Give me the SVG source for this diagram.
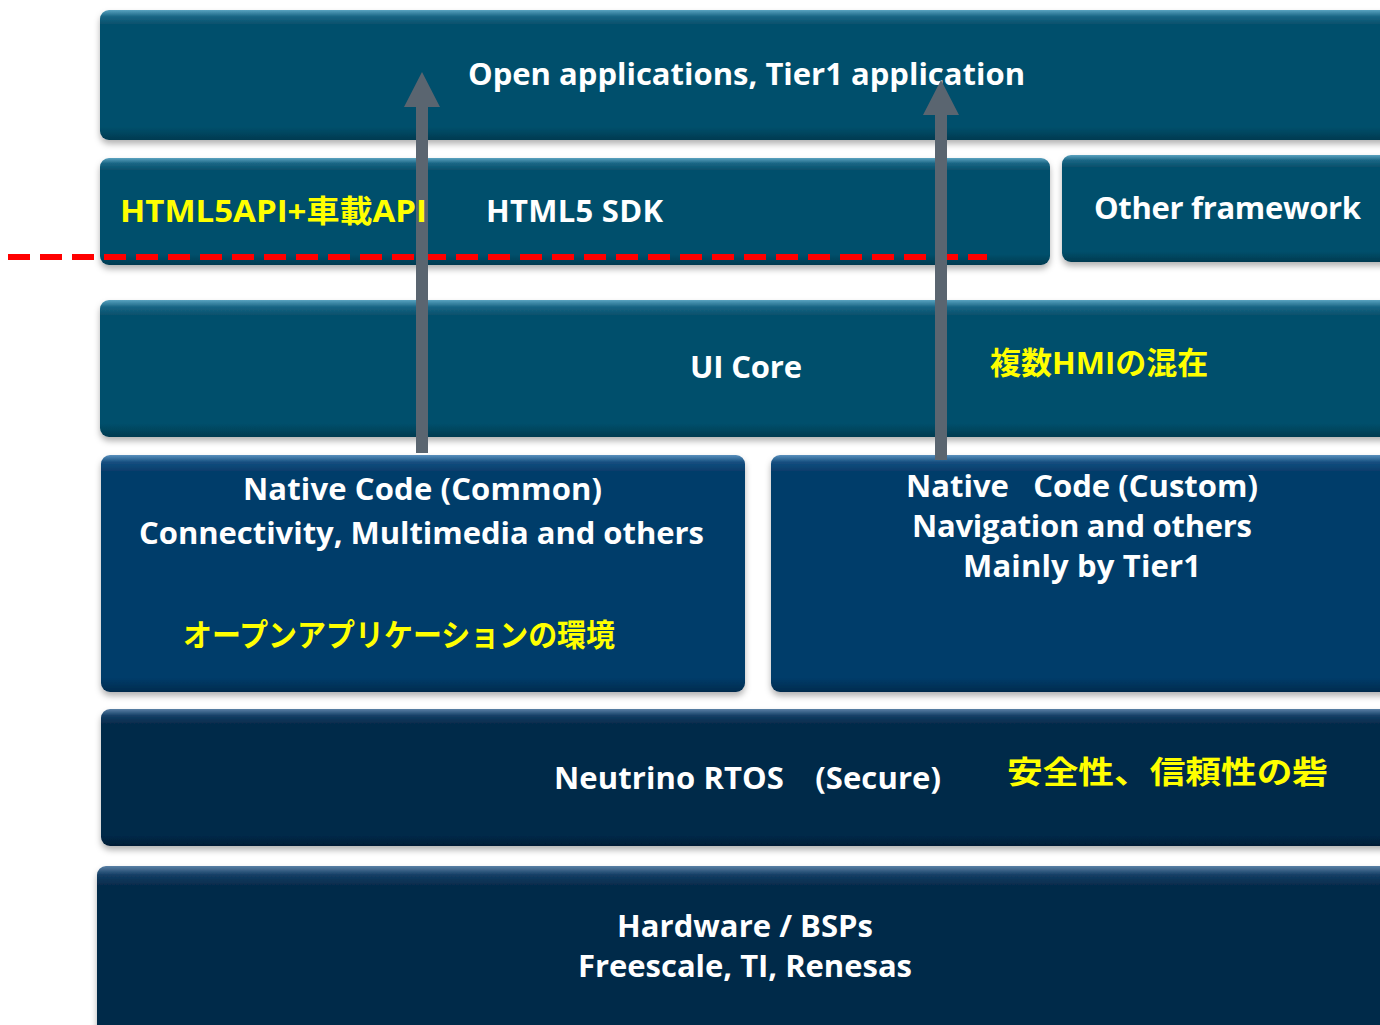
<svg xmlns="http://www.w3.org/2000/svg" width="1380" height="1025" viewBox="0 0 1380 1025">
<defs>
<style>
.t{font-family:"Open Sans","Noto Sans CJK JP",sans-serif;font-weight:bold;fill:#ffffff;font-size:31px}
.y{fill:#ffff00}
.c{text-anchor:middle}
</style>
<linearGradient id="gTeal" x1="0" y1="0" x2="0" y2="1">
<stop offset="0" stop-color="#5aa3c0"/><stop offset="0.05" stop-color="#1a6685"/><stop offset="0.11" stop-color="#06506c"/><stop offset="0.9" stop-color="#06506c"/><stop offset="1" stop-color="#043a50"/>
</linearGradient>
<linearGradient id="gBlue" x1="0" y1="0" x2="0" y2="1">
<stop offset="0" stop-color="#5a90bd"/><stop offset="0.03" stop-color="#154f80"/><stop offset="0.07" stop-color="#053c6a"/><stop offset="0.94" stop-color="#053c6a"/><stop offset="1" stop-color="#032b4d"/>
</linearGradient>
<linearGradient id="gNavy" x1="0" y1="0" x2="0" y2="1">
<stop offset="0" stop-color="#5a80a5"/><stop offset="0.05" stop-color="#143e64"/><stop offset="0.11" stop-color="#052a4a"/><stop offset="0.92" stop-color="#052a4a"/><stop offset="1" stop-color="#031d35"/>
</linearGradient>
<filter id="sh" x="-5%" y="-10%" width="110%" height="130%">
<feDropShadow dx="0" dy="4" stdDeviation="3" flood-color="#000" flood-opacity="0.3"/>
</filter>
</defs>
<rect width="1380" height="1025" fill="#ffffff"/>
<g id="open-apps"><rect x="100" y="10" width="1300" height="130" rx="9" fill="url(#gTeal)" filter="url(#sh)"/>
<text class="t" x="468" y="85" textLength="557">Open applications, Tier1 application</text></g>
<g id="html5-sdk"><rect x="100" y="158" width="950" height="107" rx="9" fill="url(#gTeal)" filter="url(#sh)"/>
<text class="t" x="486" y="222" textLength="177">HTML5 SDK</text></g>
<g id="other-framework"><rect x="1062" y="155" width="340" height="107" rx="9" fill="url(#gTeal)" filter="url(#sh)"/>
<text class="t" x="1094" y="219" textLength="267">Other framework</text></g>
<g id="ui-core"><rect x="100" y="300" width="1300" height="137" rx="9" fill="url(#gTeal)" filter="url(#sh)"/>
<text class="t" x="690" y="378" textLength="112">UI Core</text>
<text class="t y" x="990" y="374" font-size="31">複数HMIの混在</text></g>
<g id="native-common"><rect x="101" y="455" width="644" height="237" rx="9" fill="url(#gBlue)" filter="url(#sh)"/>
<text class="t" x="243" y="500" textLength="359">Native Code (Common)</text>
<text class="t" x="139" y="544" textLength="565">Connectivity, Multimedia and others</text>
<text class="t y" x="183" y="646" font-size="28" textLength="432" lengthAdjust="spacingAndGlyphs">オープンアプリケーションの環境</text></g>
<g id="native-custom"><rect x="771" y="455" width="630" height="237" rx="9" fill="url(#gBlue)" filter="url(#sh)"/>
<text class="t" x="906" y="497" textLength="352" xml:space="preserve">Native   Code (Custom)</text>
<text class="t" x="912" y="537" textLength="340">Navigation and others</text>
<text class="t" x="963" y="577" textLength="238">Mainly by Tier1</text></g>
<g id="rtos"><rect x="101" y="709" width="1300" height="137" rx="9" fill="url(#gNavy)" filter="url(#sh)"/>
<text class="t" x="554" y="789" textLength="387">Neutrino RTOS　(Secure)</text>
<text class="t y" x="1007" y="783" font-size="35" textLength="321" lengthAdjust="spacingAndGlyphs">安全性、信頼性の砦</text></g>
<g id="hardware"><rect x="97" y="866" width="1300" height="180" rx="9" fill="url(#gNavy)" filter="url(#sh)"/>
<text class="t" x="617" y="937" textLength="256">Hardware / BSPs</text>
<text class="t" x="578" y="977" textLength="334">Freescale, TI, Renesas</text></g>
<g id="connectors">
<line x1="8" y1="257" x2="987" y2="257" stroke="#ff0000" stroke-width="6" stroke-dasharray="22 10"/>
<polygon points="416,453 428,453 428,107 440,107 422,72 404,107 416,107" fill="#5a6570"/>
<polygon points="935,460 947,460 947,115 959,115 941,80 923,115 935,115" fill="#5a6570"/>
</g>
<g id="html5-api-label">
<text class="t y" x="120" y="222" font-size="32" textLength="307" lengthAdjust="spacingAndGlyphs">HTML5API+車載API</text>
</g>
</svg>
